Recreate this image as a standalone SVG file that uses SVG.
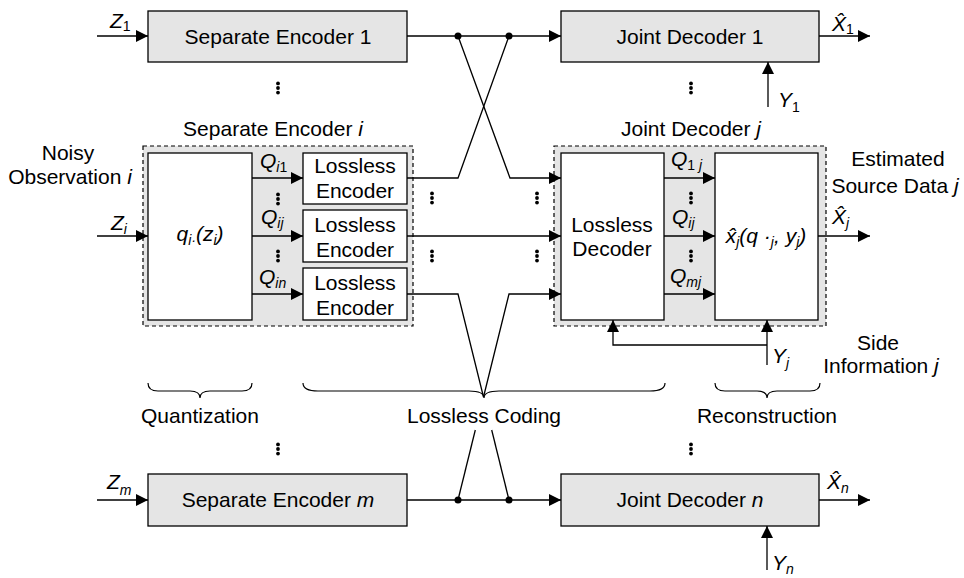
<svg xmlns="http://www.w3.org/2000/svg" width="964" height="578" viewBox="0 0 964 578">
<defs>
  <marker id="arr" markerWidth="12" markerHeight="12" refX="12" refY="6" orient="auto" markerUnits="userSpaceOnUse">
    <path d="M0,0 L12,6 L0,12 z" fill="#000"/>
  </marker>
  <g id="vdots" fill="#000">
    <circle cx="0" cy="-4.6" r="1.9"/>
    <circle cx="0" cy="0" r="1.9"/>
    <circle cx="0" cy="4.6" r="1.9"/>
  </g>
</defs>
<style>
  text { font-family: "Liberation Sans", Arial, sans-serif; font-size: 21px; fill: #000; }
  .c { text-anchor: middle; }
  .it { font-style: italic; }
  .sub { font-size: 14px; }
  .up { font-style: normal; }
  .box { fill: #e5e5e5; stroke: #000; stroke-width: 1.3; }
  .wbox { fill: #fff; stroke: #000; stroke-width: 1.3; }
  .dash { fill: #e5e5e5; stroke: #000; stroke-width: 1.2; stroke-dasharray: 4 3; }
  .ln { fill: none; stroke: #000; stroke-width: 1.3; }
  .ar { marker-end: url(#arr); }
  .brace { fill: none; stroke: #000; stroke-width: 1.2; }
</style>

<!-- group frames -->
<g id="enc-i">
  <rect class="dash" x="143" y="146" width="270" height="180"/>
  <text class="c" x="273" y="136">Separate Encoder <tspan class="it">i</tspan></text>
  <g id="quantizer">
    <rect class="wbox" x="148" y="153" width="104" height="167"/>
    <text class="c it" x="200" y="241">q<tspan class="sub" dy="4">i·</tspan><tspan dy="-4">(z</tspan><tspan class="sub" dy="4">i</tspan><tspan dy="-4">)</tspan></text>
  </g>
  <g id="lenc-1">
    <rect class="wbox" x="303" y="153" width="104" height="51"/>
    <text class="c" x="355" y="173">Lossless</text>
    <text class="c" x="355" y="198">Encoder</text>
  </g>
  <g id="lenc-j">
    <rect class="wbox" x="303" y="210" width="104" height="52"/>
    <text class="c" x="355" y="232">Lossless</text>
    <text class="c" x="355" y="257">Encoder</text>
  </g>
  <g id="lenc-n">
    <rect class="wbox" x="303" y="268" width="104" height="52"/>
    <text class="c" x="355" y="290">Lossless</text>
    <text class="c" x="355" y="315">Encoder</text>
  </g>
</g>

<g id="dec-j">
  <rect class="dash" x="554" y="146" width="272" height="180"/>
  <text class="c" x="691" y="136">Joint Decoder <tspan class="it">j</tspan></text>
  <g id="ldec">
    <rect class="wbox" x="561" y="153" width="103" height="167"/>
    <text class="c" x="612" y="232">Lossless</text>
    <text class="c" x="612" y="256">Decoder</text>
  </g>
  <g id="recon">
    <rect class="wbox" x="715" y="153" width="103" height="167"/>
    <text class="c it" x="766" y="243">x̂<tspan class="sub" dy="4">j</tspan><tspan dy="-4">(q ·</tspan><tspan class="sub" dy="4">j</tspan><tspan dy="-4">, y</tspan><tspan class="sub" dy="4">j</tspan><tspan dy="-4">)</tspan></text>
  </g>
</g>

<g id="enc-1">
  <rect class="box" x="148" y="11" width="259" height="51"/>
  <text class="c" x="278" y="44">Separate Encoder 1</text>
</g>
<g id="dec-1">
  <rect class="box" x="561" y="11" width="258" height="51"/>
  <text class="c" x="690" y="44">Joint Decoder 1</text>
</g>
<g id="enc-m">
  <rect class="box" x="148" y="474" width="259" height="52"/>
  <text class="c" x="278" y="507">Separate Encoder <tspan class="it">m</tspan></text>
</g>
<g id="dec-n">
  <rect class="box" x="561" y="474" width="258" height="52"/>
  <text class="c" x="690" y="507">Joint Decoder <tspan class="it">n</tspan></text>
</g>

<!-- connectors -->
<g id="connectors">
  <!-- inputs -->
  <path class="ln ar" d="M97,36 H148"/>
  <path class="ln ar" d="M97,236 H148"/>
  <path class="ln ar" d="M97,500 H148"/>
  <!-- quantizer to lossless encoders -->
  <path class="ln ar" d="M252,178 H303"/>
  <path class="ln ar" d="M252,236 H303"/>
  <path class="ln ar" d="M252,294 H303"/>
  <!-- lossless decoder to reconstruction -->
  <path class="ln ar" d="M664,178 H715"/>
  <path class="ln ar" d="M664,236 H715"/>
  <path class="ln ar" d="M664,294 H715"/>
  <!-- outputs -->
  <path class="ln ar" d="M819,36 H870"/>
  <path class="ln ar" d="M818,236 H870"/>
  <path class="ln ar" d="M819,500 H870"/>
  <!-- side information -->
  <path class="ln ar" d="M768,107 V62"/>
  <path class="ln ar" d="M767,365 V320"/>
  <path class="ln ar" d="M767,345 H613 V320"/>
  <path class="ln ar" d="M767,570 V526"/>
  <!-- top routing -->
  <path class="ln ar" d="M407,36 H561"/>
  <path class="ln ar" d="M458,36 L510,178 H561"/>
  <path class="ln" d="M509,36 L458,178 H407"/>
  <!-- middle routing -->
  <path class="ln ar" d="M407,236 H561"/>
  <!-- bottom routing -->
  <path class="ln" d="M407,294 H458 L483.5,397"/>
  <path class="ln ar" d="M483.5,397 L509,294 H561"/>
  <path class="ln" d="M491.7,430 L509,500"/>
  <path class="ln" d="M475.3,430 L458,500"/>
  <path class="ln ar" d="M407,500 H561"/>
  <!-- junctions -->
  <circle cx="458" cy="36" r="3.5"/>
  <circle cx="509" cy="36" r="3.5"/>
  <circle cx="458" cy="500" r="3.5"/>
  <circle cx="509" cy="500" r="3.5"/>
</g>

<!-- vertical ellipses -->
<use href="#vdots" x="278" y="88"/>
<use href="#vdots" x="691" y="88"/>
<use href="#vdots" x="278" y="199"/>
<use href="#vdots" x="278" y="256"/>
<use href="#vdots" x="432" y="198"/>
<use href="#vdots" x="432" y="256"/>
<use href="#vdots" x="537" y="198"/>
<use href="#vdots" x="537" y="256"/>
<use href="#vdots" x="691" y="198"/>
<use href="#vdots" x="691" y="256"/>
<use href="#vdots" x="278" y="449"/>
<use href="#vdots" x="691" y="449"/>

<!-- signal labels -->
<text class="it" x="110" y="28">Z<tspan class="sub up" dy="3">1</tspan></text>
<text class="it" x="111" y="230">Z<tspan class="sub" dy="4">i</tspan></text>
<text class="it" x="107" y="489">Z<tspan class="sub" dy="6">m</tspan></text>

<text class="it" x="260" y="168">Q<tspan class="sub" dy="4">i</tspan><tspan class="sub up">1</tspan></text>
<text class="it" x="261" y="224">Q<tspan class="sub" dy="4">ij</tspan></text>
<text class="it" x="259" y="284">Q<tspan class="sub" dy="4">in</tspan></text>

<text class="it" x="671" y="166">Q<tspan class="sub up" dy="4">1</tspan><tspan class="sub"> j</tspan></text>
<text class="it" x="672" y="224">Q<tspan class="sub" dy="4">ij</tspan></text>
<text class="it" x="670" y="283">Q<tspan class="sub" dy="4">mj</tspan></text>

<text class="it" x="832" y="31">X̂<tspan class="sub up" dy="3">1</tspan></text>
<text class="it" x="832" y="224">X̂<tspan class="sub" dy="4">j</tspan></text>
<text class="it" x="827" y="489">X̂<tspan class="sub" dy="4">n</tspan></text>

<text class="it" x="778" y="107">Y<tspan class="sub up" dy="5">1</tspan></text>
<text class="it" x="772" y="363">Y<tspan class="sub" dy="5">j</tspan></text>
<text class="it" x="772" y="570">Y<tspan class="sub" dy="4">n</tspan></text>

<!-- annotations -->
<text class="c" x="68" y="160">Noisy</text>
<text class="c" x="70" y="184">Observation <tspan class="it">i</tspan></text>
<text class="c" x="898" y="166">Estimated</text>
<text class="c" x="895" y="193">Source Data <tspan class="it">j</tspan></text>
<text class="c" x="878" y="350">Side</text>
<text class="c" x="881" y="373">Information <tspan class="it">j</tspan></text>

<!-- stage braces -->
<path class="brace" d="M148,383 Q148,391 158,391 H190 Q200,391 200,398 Q200,391 210,391 H242 Q252,391 252,383"/>
<path class="brace" d="M303,383 Q303,391 318,391 H469 Q484,391 484,398 Q484,391 499,391 H650 Q665,391 665,383"/>
<path class="brace" d="M715,383 Q715,391 725,391 H757 Q767,391 767,398 Q767,391 777,391 H810 Q820,391 820,383"/>
<text class="c" x="200" y="423">Quantization</text>
<text class="c" x="484" y="423">Lossless Coding</text>
<text class="c" x="767" y="423">Reconstruction</text>
</svg>
